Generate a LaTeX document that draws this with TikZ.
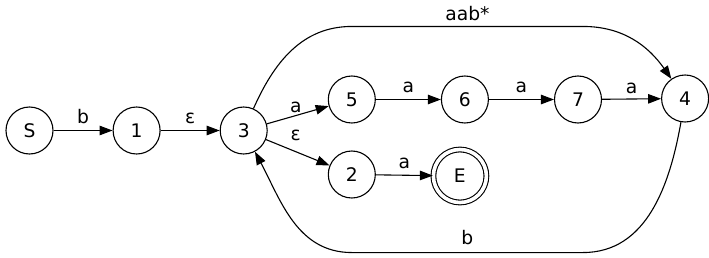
\documentclass[tikz,border=0pt]{standalone}
\usepackage{fontspec}
\setmainfont{DejaVu Sans}
\usetikzlibrary{arrows.meta,positioning,calc}
\tikzset{
  state/.style={draw,circle,line width=1.1pt,minimum size=47pt,inner sep=0pt,
    font=\fontsize{18.7}{21}\selectfont},
  final/.style={state,minimum size=53pt,double,double distance=3.6pt},
  flow/.style={-{Triangle[length=13pt,width=9.5pt]},line width=1.1pt},
  elabel/.style={font=\fontsize{18.7}{21}\selectfont,inner sep=1pt},
}
\begin{document}
\begin{tikzpicture}[node distance=59pt]
  \useasboundingbox (0,0) rectangle (709pt,-257pt);
  \node[state] (nS) at (29.5pt,-130.5pt) {S};
  \node[state,right=of nS] (n1) {1};
  \node[state,right=of n1] (n3) {3};
  \node[state,right=60pt of n3,yshift=31pt] (n5) {5};
  \node[state,right=65pt of n5] (n6) {6};
  \node[state,right=65pt of n6] (n7) {7};
  \node[state,right=59pt of n7,yshift=1pt] (n4) {4};
  \node[state,right=60pt of n3,yshift=-44pt] (n2) {2};
  \node[final,right=57pt of n2,yshift=-1.5pt] (nE) {E};
  % bends of the two long arcs
  \coordinate (tl) at ($(n5.north)+(0,49pt)$);
  \coordinate (tr) at ($(n7.north)+(5pt,49pt)$);
  \coordinate (bl) at ($(n2.south)+(0,-54pt)$);
  \coordinate (br) at (tr |- bl);
  \draw[flow] (nS) -- node[elabel,above=5pt]{b} (n1);
  \draw[flow] (n1) -- node[elabel,above=5pt]{ε} (n3);
  \draw[flow] (n3) -- node[elabel,above=1pt,xshift=-2pt]{a} (n5);
  \draw[flow] (n3) -- node[elabel,above=10pt,xshift=-2pt]{ε} (n2);
  \draw[flow] (n5) -- node[elabel,above=5pt]{a} (n6);
  \draw[flow] (n6) -- node[elabel,above=5pt]{a} (n7);
  \draw[flow] (n7) -- node[elabel,above=4pt]{a} (n4);
  \draw[flow] (n2) -- node[elabel,above=5pt]{a} (nE);
  \draw[flow] (n3.66) to[out=66,in=180] (tl) -- node[elabel,above=4pt]{aab*} (tr)
    to[out=0,in=125] (n4.125);
  \draw[flow] (n4.-100) to[out=-100,in=0] (br) -- node[elabel,above=6pt]{b} (bl)
    to[out=180,in=-62] (n3.-62);
\end{tikzpicture}
\end{document}
